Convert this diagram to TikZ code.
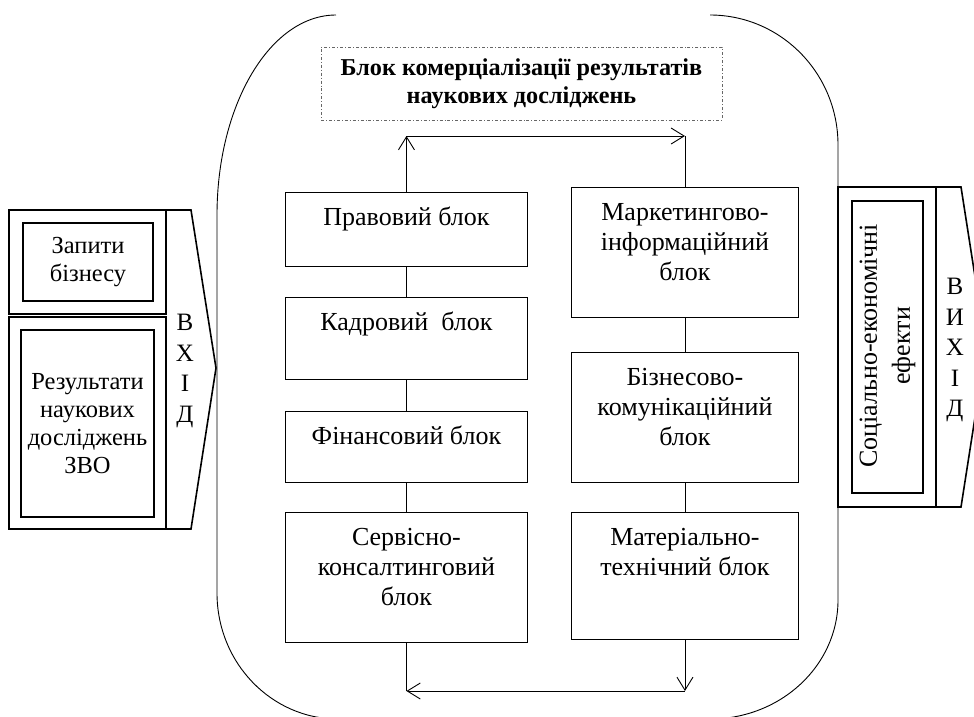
\documentclass[tikz,border=0pt]{standalone}
\usepackage{fontspec}
\setmainfont{Liberation Serif}
\usetikzlibrary{arrows.meta}
\newcommand\toptxt[3]{\parbox[c][#2pt][t]{#1pt}{\centering\vspace*{12pt}\strut #3\par}}
\begin{document}
\begin{tikzpicture}[x=1pt,y=-1pt,
  line width=0.9pt,
  blk/.style={draw, line width=0.9pt, inner sep=0pt, anchor=north west,
    font=\fontsize{26}{30}\selectfont},
  arr/.style={-{Straight Barb[length=13pt,width=16pt,line width=0.9pt]}},
  thickbox/.style={draw, line width=1.6pt, inner sep=0pt},
  iotxt/.style={align=center, inner sep=0pt, font=\fontsize{24.5}{28}\selectfont},
  lettxt/.style={align=center, inner sep=0pt, font=\fontsize{25}{30.5}\selectfont}]
\useasboundingbox (0,0) rectangle (974,716);
\clip (0,0) rectangle (974,716);

% outer rounded frame (open at the top)
\draw (336,15) .. controls (270.3,15) and (217,104.5) .. (217,215)
  -- (217,593) .. controls (217,662.6) and (271.2,719) .. (338,719)
  -- (710,719) .. controls (780.7,719) and (838,665.7) .. (838,600)
  -- (838,145) .. controls (838,73.2) and (780.7,15) .. (710,15);

% title block
\node[draw=black!60, dash dot, line width=0.7pt, minimum width=401pt, minimum height=73pt,
  align=center, inner sep=0pt, font=\fontsize{24.2}{28}\selectfont\bfseries]
  (top) at (521.5,83.5) {Блок комерціалізації результатів\\наукових досліджень};

% left column
\node[blk] (L1) at (285,192) {\toptxt{242}{74}{Правовий блок}};
\node[blk] (L2) at (285,297) {\toptxt{242}{82}{Кадровий\ \ блок}};
\node[blk] (L3) at (285,411) {\toptxt{242}{71}{Фінансовий блок}};
\node[blk] (L4) at (285,512) {\toptxt{242}{130}{Сервісно-\\консалтинговий\\блок}};
% right column
\node[blk] (R1) at (571,187) {\toptxt{227}{130}{Маркетингово-\\інформаційний\\блок}};
\node[blk] (R2) at (571,352) {\toptxt{227}{130}{Бізнесово-\\комунікаційний\\блок}};
\node[blk] (R3) at (571,512) {\toptxt{227}{127}{Матеріально-\\технічний блок}};

\draw (L1.south) -- (L2.north);
\draw (L2.south) -- (L3.north);
\draw (L3.south) -- (L4.north);
\draw (R1.south) -- (R2.north);
\draw (R2.south) -- (R3.north);

\coordinate (tl) at (L1.north |- 0,136);
\coordinate (tr) at (R1.north |- 0,136);
\draw[arr] (L1.north) -- (tl);
\draw[arr] (tl) -- (tr);
\draw (tr) -- (R1.north);

\coordinate (bl) at (L4.south |- 0,691);
\coordinate (br) at (R3.south |- 0,691);
\draw[arr] (R3.south) -- (br);
\draw[arr] (br) -- (bl);
\draw (bl) -- (L4.south);

% input block
\node[thickbox, minimum width=157pt, minimum height=104pt] (qo) at (87.5,262) {};
\node[thickbox, minimum width=157pt, minimum height=212pt] (ro) at (87.5,423) {};
\node[thickbox, minimum width=130pt, minimum height=78pt, iotxt] (q) at (88,262) {Запити\\бізнесу};
\node[thickbox, minimum width=133pt, minimum height=187pt, iotxt] (r) at (87.5,423.5)
  {Результати\\наукових\\досліджень\\ЗВО};
\draw[line width=1.6pt, line join=miter] (166,210) -- (191,210) -- (216,368) -- (191,529) -- (166,529);
\node[lettxt] (vhid) at (185,371) {В\\Х\\І\\Д};

% output block
\node[thickbox, minimum width=98pt, minimum height=320pt] (eo) at (887,347) {};
\node[thickbox, minimum width=71pt, minimum height=292pt] (e) at (887.5,347) {};
\node[iotxt, rotate=90, font=\fontsize{26}{33}\selectfont] (etxt) at (887.5,346)
  {Соціально-економічні\\ефекти};
\draw[line width=1.6pt, line join=miter] (936,187) -- (961,187) -- (986,347) -- (961,507) -- (936,507);
\node[lettxt] (vyhid) at (955,350) {В\\И\\Х\\І\\Д};
\end{tikzpicture}
\end{document}
